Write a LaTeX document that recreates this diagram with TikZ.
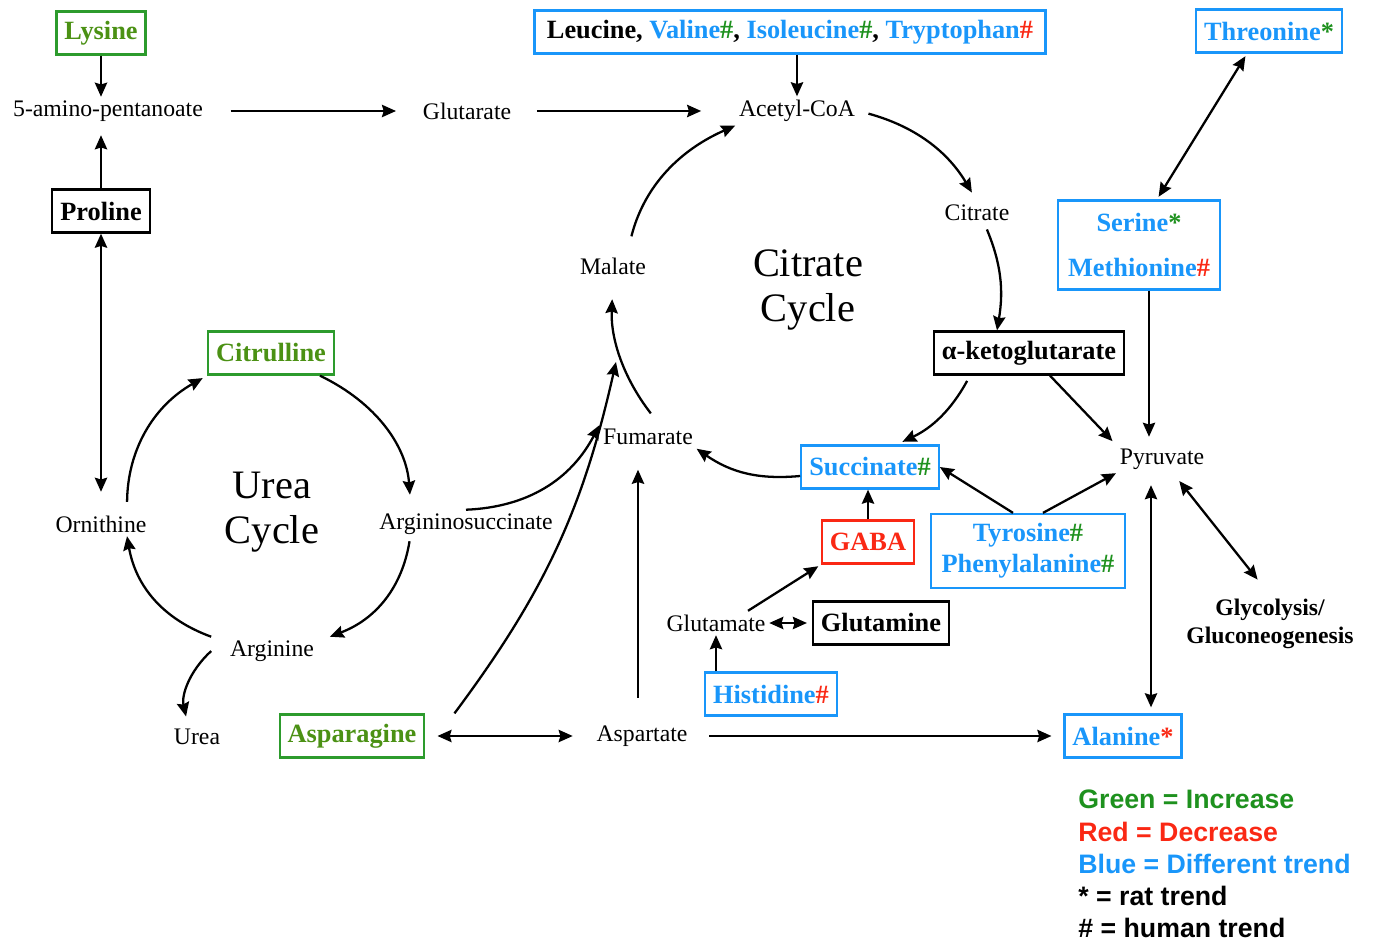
\documentclass[tikz,border=0pt]{standalone}
\usepackage{fontspec}
\setmainfont{Liberation Serif}
\newfontfamily\legendfont{Liberation Sans}
\usetikzlibrary{arrows.meta}
\usepackage{xcolor}
\definecolor{incgreen}{RGB}{75,145,20}
\definecolor{boxgreen}{RGB}{45,155,45}
\definecolor{markgreen}{RGB}{30,145,30}
\definecolor{difblue}{RGB}{25,150,250}
\definecolor{decred}{RGB}{250,40,20}
\newcommand{\grnhash}{\textcolor{markgreen}{\#}}
\newcommand{\redhash}{\textcolor{decred}{\#}}
\newcommand{\grnstar}{\textcolor{markgreen}{*}}
\newcommand{\redstar}{\textcolor{decred}{*}}

\begin{document}
\begin{tikzpicture}[x=0.02cm, y=-0.02cm,
		met/.style={font=\fontsize{13.5}{16}\selectfont, inner sep=2pt},
		cyc/.style={font=\fontsize{23}{25.6}\selectfont, align=center},
		aabox/.style={draw, line width=1.3pt, font=\bfseries\fontsize{15}{18}\selectfont, minimum height=0.86cm, inner xsep=4.5pt},
		incbox/.style={aabox, draw=boxgreen, text=incgreen},
		difbox/.style={aabox, draw=difblue, text=difblue},
		decbox/.style={aabox, draw=decred, text=decred},
		plainbox/.style={aabox, draw=black},
		legend/.style={font=\legendfont\bfseries\fontsize{15.2}{18.3}\selectfont, align=left, inner sep=0pt}]
	\tikzstyle{arr}=[-{Stealth[length=8pt,width=7pt,inset=1pt]}, line width=1.3pt]
	\tikzstyle{darr}=[{Stealth[length=8pt,width=7pt,inset=1pt]}-{Stealth[length=8pt,width=7pt,inset=1pt]}, line width=1.3pt]
	\useasboundingbox (0,0) rectangle (1373,942);

	\node[incbox] (lys) at (101,33) {Lysine};
	\node[met] (amino) at (108,111) {5-amino-pentanoate};
	\node[met] (glutar) at (467,111) {Glutarate};
	\node[met] (acoa) at (797,111) {Acetyl-CoA};
	\node[difbox, text=black, inner xsep=7pt] (bcaa) at (790,32) {Leucine, \textcolor{difblue}{Valine}\grnhash, \textcolor{difblue}{Isoleucine}\grnhash, \textcolor{difblue}{Tryptophan}\redhash};
	\node[difbox] (thr) at (1269,31) {Threonine\grnstar};
	\node[plainbox] (pro) at (101,211) {Proline};
	\node[met] (citrate) at (977,213) {Citrate};
	\node[difbox, minimum width=3.24cm, minimum height=1.78cm, align=center, font=\bfseries\fontsize{15}{25.5}\selectfont] (sermet) at (1139,245) {Serine\grnstar\\Methionine\redhash};
	\node[met] (mal) at (613,266) {Malate};
	\node[cyc] (tcacyc) at (808,290) {Citrate\\Cycle};
	\node[incbox] (citrul) at (271,353) {Citrulline};
	\node[plainbox] (akg) at (1029,353) {α-ketoglutarate};
	\node[met] (fum) at (648,437) {Fumarate};
	\node[difbox] (succ) at (870,467) {Succinate\grnhash};
	\node[met] (pyr) at (1162,459) {Pyruvate};
	\node[cyc] (ureacyc) at (272,512) {Urea\\Cycle};
	\node[met] (orn) at (101,524) {Ornithine};
	\node[met] (asuc) at (466,524) {Argininosuccinate};
	\node[decbox] (gaba) at (868,542) {GABA};
	\node[difbox, minimum width=3.88cm, minimum height=1.48cm, align=center, font=\bfseries\fontsize{15}{17.6}\selectfont] (tyrphe) at (1028,551) {Tyrosine\grnhash\\Phenylalanine\grnhash};
	\node[met, align=center, font=\bfseries\fontsize{13.5}{16}\selectfont] (glyc) at (1270,624) {Glycolysis/\\Gluconeogenesis};
	\node[met] (glu) at (716,623) {Glutamate};
	\node[plainbox] (gln) at (881,623) {Glutamine};
	\node[met] (arg) at (272,651) {Arginine};
	\node[difbox] (his) at (771,694) {Histidine\redhash};
	\node[met] (urea) at (197,737) {Urea};
	\node[incbox] (asn) at (352,736) {Asparagine};
	\node[met] (asp) at (642,736) {Aspartate};
	\node[difbox] (ala) at (1123,736) {Alanine\redstar};
	\coordinate (malin) at (616,362);
	\node[legend, anchor=west] (key) at (1078,864) {\textcolor{markgreen}{Green = Increase}\\\textcolor{decred}{Red = Decrease}\\\textcolor{difblue}{Blue = Different trend}\\* = rat trend\\\# = human trend};

	\draw[arr] (lys) -- (lys |- amino.north);
	\draw[arr, shorten >=0.2cm] (pro) -- (pro |- amino.south);
	\draw[darr, shorten >=0.4cm] (pro) -- (pro |- orn.north);
	\draw[arr, shorten <=0.48cm, shorten >=0.46cm] (amino) -- (glutar);
	\draw[arr, shorten <=0.44cm, shorten >=0.68cm] (glutar) -- (acoa);
	\draw[arr] (acoa |- bcaa.south) -- (acoa);

	\draw[arr, shorten <=0.2cm, shorten >=0.2cm] (acoa.east) to[bend left=22] (citrate.north);
	\draw[arr, shorten <=0.1cm] ([xshift=0.16cm]citrate.south) to[bend left=16] ([xshift=-0.64cm]akg.north);
	\draw[arr, shorten <=0.12cm, shorten >=0.12cm] ([xshift=-1.18cm]akg.south) to[bend left=18] ([xshift=0.54cm]succ.north);
	\draw[arr] ([yshift=-0.18cm]succ.west) to[bend left=20] (fum.south east);
	\draw[arr, shorten <=0.3cm, shorten >=0.42cm] ([xshift=0.24cm]fum.north) to[bend left=20] (mal.south);
	\draw[arr, shorten <=0.36cm] ([xshift=0.28cm]mal.north) to[bend left=26] (acoa.south west);

	\draw[arr, shorten >=0.1cm] ([xshift=0.42cm]akg.south) -- (pyr.north west);
	\draw[arr, shorten >=0.16cm] ([xshift=0.2cm]sermet.south) -- ([xshift=0.2cm]sermet.south |- pyr.north);
	\draw[darr, shorten <=0.06cm, shorten >=0.06cm] ([xshift=-0.44cm]thr.south) -- ([xshift=0.36cm]sermet.north);
	\draw[arr] ([xshift=-0.3cm]tyrphe.north) -- (succ.east);
	\draw[arr] ([xshift=0.3cm]tyrphe.north) -- (pyr.south west);
	\draw[darr, shorten <=0.2cm, shorten >=0.4cm] ([xshift=0.22cm]pyr.south) -- (glyc.north);
	\draw[darr, shorten <=0.24cm, shorten >=0.12cm] ([xshift=-0.22cm]pyr.south) -- ([xshift=-0.22cm]pyr.south |- ala.north);

	\draw[arr] (gaba.north) -- (gaba.north |- succ.south);
	\draw[arr, shorten >=0.06cm] ([xshift=0.64cm]glu.north) -- (gaba.south west);
	\draw[darr, shorten >=0.1cm] (glu) -- (gln);
	\draw[arr] (his.north -| glu) -- (glu);
	\draw[arr, shorten <=0.36cm, shorten >=0.24cm] (asp) -- (ala);
	\draw[darr, shorten <=0.24cm, shorten >=0.4cm] (asn) -- (asp);
	\draw[arr, shorten <=0.48cm, shorten >=0.42cm] ([xshift=-0.08cm]asp.north) -- ([xshift=-0.08cm]asp.north |- fum.south);
	\draw[arr] ([xshift=0.58cm]asn.north east) to[bend right=12] (malin);
	\draw[arr] (asuc.north) to[bend right=30] (fum.north west);

	\draw[arr, shorten <=0.2cm, shorten >=0.1cm] ([xshift=0.52cm]orn.north) to[bend left=30] (citrul.south west);
	\draw[arr, shorten >=0.3cm] ([xshift=-0.3cm]citrul.south east) to[bend left=30] ([xshift=-1.1cm]asuc.north);
	\draw[arr, shorten <=0.06cm] ([xshift=-1.12cm]asuc.south) to[bend left=30] ([xshift=0.24cm]arg.north east);
	\draw[arr] ([xshift=-0.3cm]arg.north west) to[bend left=30] ([xshift=0.52cm]orn.south);
	\draw[arr, shorten >=0.18cm] ([xshift=-0.3cm]arg.west) to[bend right=30] ([xshift=-0.18cm]urea.north);
\end{tikzpicture}
\end{document}
